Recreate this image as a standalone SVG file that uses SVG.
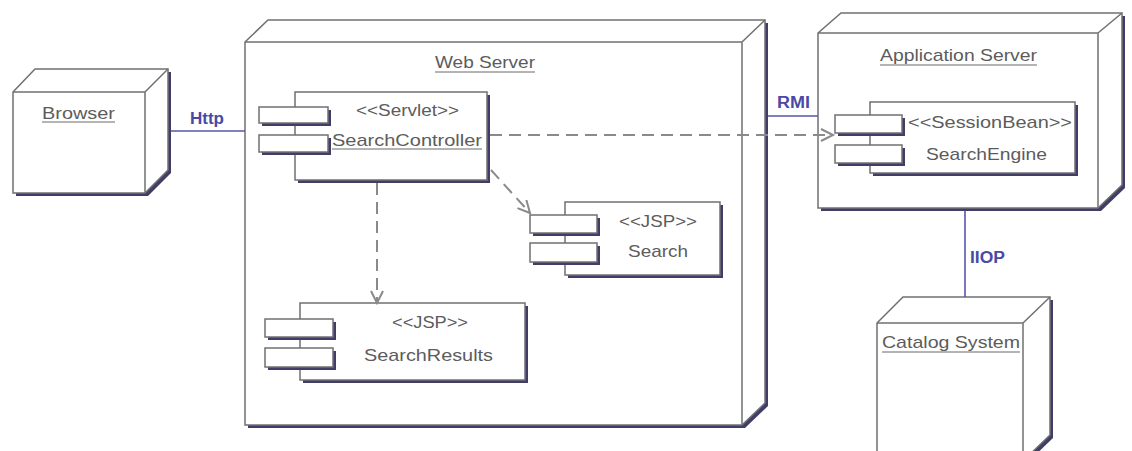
<svg xmlns="http://www.w3.org/2000/svg" width="1132" height="451" viewBox="0 0 1132 451">
  <style>
    .shadow { fill: #403e68; stroke: none; }
    .face { fill: #ffffff; stroke: #707070; stroke-width: 1.5; stroke-linejoin: miter; }
    .edge { fill: none; stroke: #707070; stroke-width: 1.5; }
    .txt { font-family: "Liberation Sans", Arial, sans-serif; font-size: 17px; fill: #5c5c5c; }
    .lbl { font-family: "Liberation Sans", Arial, sans-serif; font-size: 16px; fill: #4a4aa6; font-weight: bold; }
    .ul { stroke: #6a6a6a; stroke-width: 1.2; }
    .link { stroke: #5656aa; stroke-width: 1.6; fill: none; }
    .dep { stroke: #8a8a8a; stroke-width: 2; fill: none; stroke-dasharray: 12 7; }
  </style>
  <defs>
    <marker id="open" markerUnits="userSpaceOnUse" markerWidth="16" markerHeight="16" refX="13" refY="7" orient="auto">
      <path d="M1,1 L13,7 L1,13" fill="none" stroke="#8a8a8a" stroke-width="2"/>
    </marker>
  </defs>

  <rect width="1132" height="451" fill="#ffffff"/>

  <!-- Browser node -->
  <g id="browser">
    <polygon class="shadow" points="16,95 38,72 171,72 171,173 148,196 16,196"/>
    <polygon class="face" points="13,92 35,69 168,69 168,170 145,193 13,193"/>
    <path class="edge" d="M13,92 H145 V193 M145,92 L168,69"/>
    <text class="txt" x="78.5" y="119" text-anchor="middle" textLength="73" lengthAdjust="spacingAndGlyphs">Browser</text>
    <line class="ul" x1="42" y1="122" x2="115" y2="122"/>
  </g>

  <!-- Web Server node -->
  <g id="web-server">
    <polygon class="shadow" points="248,45 271,23 768,23 768,406 745,428 248,428"/>
    <polygon class="face" points="245,42 268,20 765,20 765,403 742,425 245,425"/>
    <path class="edge" d="M245,42 H742 V425 M742,42 L765,20"/>
    <text class="txt" x="485" y="68" text-anchor="middle" textLength="100" lengthAdjust="spacingAndGlyphs">Web Server</text>
    <line class="ul" x1="435" y1="72" x2="535" y2="72"/>
  </g>

  <!-- SearchController component -->
  <g id="search-controller">
    <rect class="shadow" x="298" y="95" width="192" height="88"/>
    <rect class="face" x="295" y="92" width="192" height="88"/>
    <rect class="shadow" x="262" y="110" width="69" height="16"/>
    <rect class="face" x="259" y="107" width="69" height="16"/>
    <rect class="shadow" x="262" y="138" width="69" height="17"/>
    <rect class="face" x="259" y="135" width="69" height="17"/>
    <text class="txt" x="407.5" y="116" text-anchor="middle" textLength="103" lengthAdjust="spacingAndGlyphs">&lt;&lt;Servlet&gt;&gt;</text>
    <text class="txt" x="407" y="146" text-anchor="middle" textLength="150" lengthAdjust="spacingAndGlyphs">SearchController</text>
    <line class="ul" x1="332" y1="149" x2="482" y2="149"/>
  </g>

  <!-- Search component -->
  <g id="search">
    <rect class="shadow" x="568" y="205" width="155" height="73"/>
    <rect class="face" x="565" y="202" width="155" height="73"/>
    <rect class="shadow" x="533" y="218" width="67" height="18"/>
    <rect class="face" x="530" y="215" width="67" height="18"/>
    <rect class="shadow" x="533" y="246" width="67" height="19"/>
    <rect class="face" x="530" y="243" width="67" height="19"/>
    <text class="txt" x="658" y="227" text-anchor="middle" textLength="78" lengthAdjust="spacingAndGlyphs">&lt;&lt;JSP&gt;&gt;</text>
    <text class="txt" x="658" y="257" text-anchor="middle" textLength="60" lengthAdjust="spacingAndGlyphs">Search</text>
  </g>

  <!-- SearchResults component -->
  <g id="search-results">
    <rect class="shadow" x="303" y="306" width="225" height="77"/>
    <rect class="face" x="300" y="303" width="225" height="77"/>
    <rect class="shadow" x="268" y="322" width="68" height="18"/>
    <rect class="face" x="265" y="319" width="68" height="18"/>
    <rect class="shadow" x="268" y="351" width="68" height="19"/>
    <rect class="face" x="265" y="348" width="68" height="19"/>
    <text class="txt" x="430" y="328" text-anchor="middle" textLength="76" lengthAdjust="spacingAndGlyphs">&lt;&lt;JSP&gt;&gt;</text>
    <text class="txt" x="428.5" y="361" text-anchor="middle" textLength="129" lengthAdjust="spacingAndGlyphs">SearchResults</text>
  </g>

  <!-- Application Server node -->
  <g id="application-server">
    <polygon class="shadow" points="821,36 844,16 1125,16 1125,188 1101,211 821,211"/>
    <polygon class="face" points="818,33 841,13 1122,13 1122,185 1098,208 818,208"/>
    <path class="edge" d="M818,33 H1098 V208 M1098,33 L1122,13"/>
    <text class="txt" x="958.5" y="61" text-anchor="middle" textLength="157" lengthAdjust="spacingAndGlyphs">Application Server</text>
    <line class="ul" x1="880" y1="65" x2="1037" y2="65"/>
  </g>

  <!-- SearchEngine component -->
  <g id="search-engine">
    <rect class="shadow" x="873" y="105" width="205" height="71"/>
    <rect class="face" x="870" y="102" width="205" height="71"/>
    <rect class="shadow" x="838" y="118" width="67" height="18"/>
    <rect class="face" x="835" y="115" width="67" height="18"/>
    <rect class="shadow" x="838" y="148" width="67" height="18"/>
    <rect class="face" x="835" y="145" width="67" height="18"/>
    <text class="txt" x="990" y="128" text-anchor="middle" textLength="164" lengthAdjust="spacingAndGlyphs">&lt;&lt;SessionBean&gt;&gt;</text>
    <text class="txt" x="986.5" y="160" text-anchor="middle" textLength="121" lengthAdjust="spacingAndGlyphs">SearchEngine</text>
  </g>

  <!-- Catalog System node -->
  <g id="catalog-system">
    <polygon class="shadow" points="880,326 906,300 1053,300 1053,438 1026,464 880,464"/>
    <polygon class="face" points="877,323 903,297 1050,297 1050,435 1023,461 877,461"/>
    <path class="edge" d="M877,323 H1023 V461 M1023,323 L1050,297"/>
    <text class="txt" x="951" y="348" text-anchor="middle" textLength="138" lengthAdjust="spacingAndGlyphs">Catalog System</text>
    <line class="ul" x1="882" y1="352" x2="1020" y2="352"/>
  </g>

  <!-- Connectors -->
  <g id="connectors">
    <line class="link" x1="171" y1="131" x2="245" y2="131"/>
    <text class="lbl" x="207" y="124" text-anchor="middle" textLength="34" lengthAdjust="spacingAndGlyphs">Http</text>

    <line class="link" x1="768" y1="116" x2="818" y2="116"/>
    <text class="lbl" x="793.5" y="108" text-anchor="middle" textLength="33" lengthAdjust="spacingAndGlyphs">RMI</text>

    <line class="link" x1="965" y1="211" x2="965" y2="297"/>
    <text class="lbl" x="987.5" y="263" text-anchor="middle" textLength="35" lengthAdjust="spacingAndGlyphs">IIOP</text>

    <line class="dep" x1="490" y1="135" x2="833" y2="135" marker-end="url(#open)"/>
    <line class="dep" x1="491" y1="170" x2="530" y2="213" marker-end="url(#open)"/>
    <line class="dep" x1="377" y1="183" x2="377" y2="303" marker-end="url(#open)"/>
  </g>
</svg>
